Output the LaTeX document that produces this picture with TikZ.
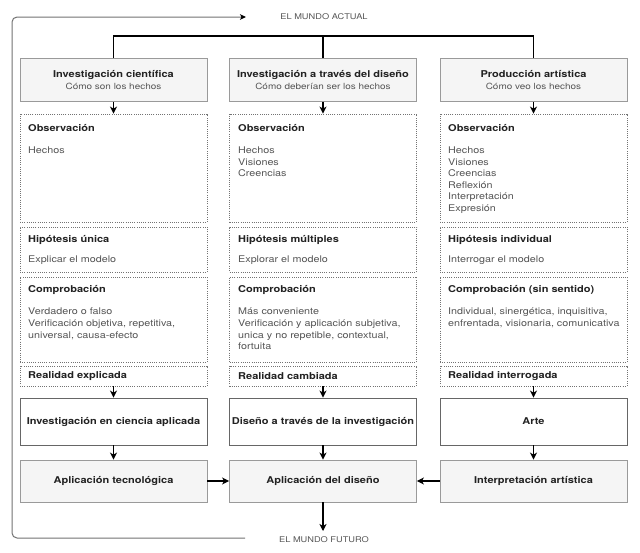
\documentclass[tikz,border=0pt]{standalone}
\usepackage{fontspec}
\setmainfont{TeX Gyre Heros}[FakeStretch=1.17]
\usetikzlibrary{arrows.meta}
\definecolor{boxfill}{HTML}{F5F5F5}
\definecolor{boxline}{HTML}{9A9A9A}
\definecolor{txt}{HTML}{555555}
\definecolor{ttlc}{HTML}{222222}
\begin{document}
\begin{tikzpicture}[x=1pt,y=-1pt]
\tikzset{
 headbox/.style={draw=boxline, fill=boxfill, minimum width=187pt, minimum height=43pt, inner sep=0pt, line width=0.8pt, align=center, text=ttlc},
 dotbox/.style={draw=black!55, dash pattern=on 1pt off 1.2pt, line width=0.8pt, minimum width=187pt, inner sep=0pt},
 midbox/.style={draw=black!60, fill=white, minimum width=187pt, minimum height=47pt, inner sep=0pt, line width=0.8pt, font=\bfseries\fontsize{9.4}{11}\selectfont, text=ttlc},
 appbox/.style={headbox, minimum height=42pt, font=\bfseries\fontsize{9.4}{11}\selectfont},
 ttl/.style={anchor=west, inner sep=0pt, font=\bfseries\fontsize{9.4}{11}\selectfont, text=ttlc},
 body/.style={anchor=north west, inner sep=0pt, align=left, font=\fontsize{9.2}{11.6}\selectfont, text=txt},
 world/.style={inner sep=1pt, font=\fontsize{7.9}{9}\selectfont, text=txt},
 conn/.style={line width=1.3pt, -{Stealth[length=7pt,width=7pt,inset=2pt]}},
}
\fill[white] (0,0) rectangle (640,552);
\useasboundingbox (0,0) rectangle (640,552);

% world labels
\node[world] (act) at (324,17) {EL MUNDO ACTUAL};
\node[world] (fut) at (324,540) {EL MUNDO FUTURO};

% heading boxes
\node[headbox] (h1) at (113.5,80) {{\bfseries\fontsize{9.4}{12}\selectfont Investigación científica}\\{\fontsize{8.5}{12}\selectfont\color{txt}Cómo son los hechos}};
\node[headbox] (h2) at (323,80) {{\bfseries\fontsize{9.4}{12}\selectfont Investigación a través del diseño}\\{\fontsize{8.5}{12}\selectfont\color{txt}Cómo deberían ser los hechos}};
\node[headbox] (h3) at (533.5,80) {{\bfseries\fontsize{9.4}{12}\selectfont Producción artística}\\{\fontsize{8.5}{12}\selectfont\color{txt}Cómo veo los hechos}};

% dotted boxes
\foreach \c/\x in {1/113.5,2/323,3/533.5}{
  \node[dotbox, minimum height=108pt] (o\c) at (\x,168) {};
  \node[dotbox, minimum height=45pt] (p\c) at (\x,249.5) {};
  \node[dotbox, minimum height=85pt] (q\c) at (\x,319.5) {};
  \node[dotbox, minimum height=20pt] (r\c) at (\x,376) {};
}

% column 1 texts
\node[ttl] (o1t) at (28,128) {Observación};
\node[body] (o1b) at (28,146.5) {Hechos};
\node[ttl] (p1t) at (28,240) {Hipótesis única};
\node[body] (p1b) at (28,256) {Explicar el modelo};
\node[ttl] (q1t) at (28,290) {Comprobación};
\node[body] (q1b) at (28,308) {Verdadero o falso\\Verificación objetiva, repetitiva,\\universal, causa-efecto};
\node[ttl] (r1t) at (28,376) {Realidad explicada};

% column 2 texts
\node[ttl] (o2t) at (238,128) {Observación};
\node[body] (o2b) at (238,146.5) {Hechos\\Visiones\\Creencias};
\node[ttl] (p2t) at (238,240) {Hipótesis múltiples};
\node[body] (p2b) at (238,256) {Explorar el modelo};
\node[ttl] (q2t) at (238,290) {Comprobación};
\node[body] (q2b) at (238,308) {Más conveniente\\Verificación y aplicación subjetiva,\\unica y no repetible, contextual,\\fortuita};
\node[ttl] (r2t) at (238,376) {Realidad cambiada};

% column 3 texts
\node[ttl] (o3t) at (448,128) {Observación};
\node[body] (o3b) at (448,146.5) {Hechos\\Visiones\\Creencias\\Reflexión\\Interpretación\\Expresión};
\node[ttl] (p3t) at (448,240) {Hipótesis individual};
\node[body] (p3b) at (448,256) {Interrogar el modelo};
\node[ttl] (q3t) at (448,290) {Comprobación (sin sentido)};
\node[body] (q3b) at (448,308) {Individual, sinergética, inquisitiva,\\enfrentada, visionaria, comunicativa};
\node[ttl] (r3t) at (448,376) {Realidad interrogada};

% middle boxes
\node[midbox] (m1) at (113.5,421.5) {Investigación en ciencia aplicada};
\node[midbox] (m2) at (323,421.5) {Diseño a través de la investigación};
\node[midbox] (m3) at (533.5,421.5) {Arte};

% application boxes
\node[appbox] (a1) at (113.5,481) {Aplicación tecnológica};
\node[appbox] (a2) at (323,481) {Aplicación del diseño};
\node[appbox] (a3) at (533.5,481) {Interpretación artística};

% top distribution line
\coordinate (t1) at (113.5,36);
\coordinate (t2) at (323,36);
\coordinate (t3) at (533.5,36);
\draw[line width=1.3pt] (h1.north) -- (t1) -- (t3) -- (h3.north);
\draw[line width=1.3pt] (t2) -- (h2.north);

% vertical connectors
\foreach \c in {1,2,3}{
  \draw[conn] (h\c) -- (o\c);
  \draw[conn] (r\c) -- (m\c);
  \draw[conn] (m\c) -- (a\c);
}
\draw[conn] (a1) -- (a2);
\draw[conn] (a3) -- (a2);
\coordinate (fend) at (323,531);
\draw[conn] (a2) -- (fend);

% loop back
\coordinate (lb) at (245,538);
\coordinate (lt) at (246,17);
\draw[draw=black!55, line width=1pt, rounded corners=5pt, -{Stealth[length=6pt,width=5.5pt,inset=1.5pt,color=black]}] (lb) -- (12,538) -- (12,17) -- (lt);
\end{tikzpicture}
\end{document}
